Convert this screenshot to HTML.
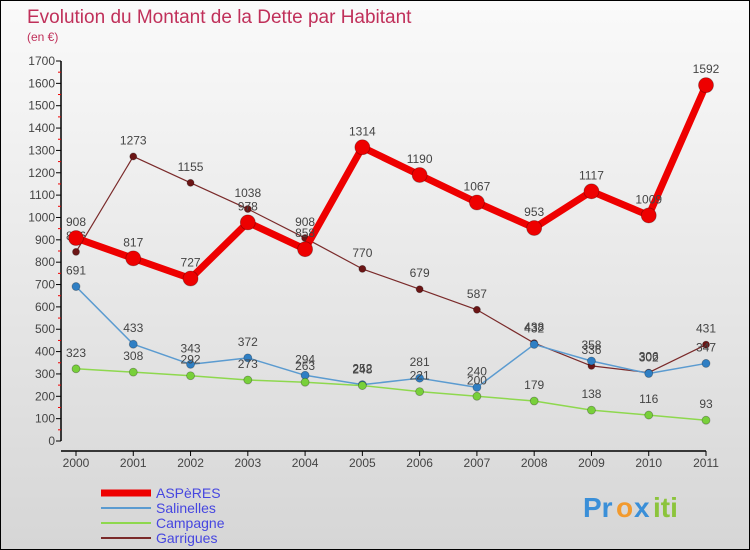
<!DOCTYPE html>
<html><head><meta charset="utf-8"><style>
body{margin:0;}
#c{width:750px;height:550px;position:relative;overflow:hidden;background:linear-gradient(#fafafa,#d6d6d6);font-family:"Liberation Sans",sans-serif;box-sizing:border-box;border:1px solid #000;}
svg{position:absolute;left:0;top:0}
</style></head><body>
<div id="c">
<svg id="s" width="750" height="550">
<text x="26" y="22" font-size="19" fill="#c0305a">Evolution du Montant de la Dette par Habitant</text>
<text x="26" y="40" font-size="12" fill="#c0305a">(en €)</text>
<g id="ax"></g><g id="ser"></g>
<g font-size="28" font-weight="bold">
<text x="582" y="516" fill="#3a8fd8">Pr</text><text x="615" y="516" fill="#f29a2e">o</text><text x="633" y="516" fill="#3a8fd8">x</text><text x="652" y="516" fill="#8cc43c">iti</text>
</g>
</svg>
</div>
<script>
const years=[2000,2001,2002,2003,2004,2005,2006,2007,2008,2009,2010,2011];
const asperes=[908,817,727,978,858,1314,1190,1067,953,1117,1009,1592];
const salinelles=[691,433,343,372,294,252,281,240,432,358,302,347];
const campagne=[323,308,292,273,263,248,221,200,179,138,116,93];
const garrigues=[846,1273,1155,1038,908,770,679,587,438,336,306,431];
const yTicks=[0,100,200,300,400,500,600,700,800,900,1000,1100,1200,1300,1400,1500,1600,1700];
const NS="http://www.w3.org/2000/svg";
const X=i=>75+i*(630/11);
const Y=v=>440-v*380/1700;
function mk(t,a,p){const e=document.createElementNS(NS,t);for(const k in a)e.setAttribute(k,a[k]);p.appendChild(e);return e;}
const ax=document.getElementById('ax');
let l=mk('line',{x1:60,y1:Y(1700),x2:60,y2:440,stroke:'#000','stroke-width':1.5},ax);

l=mk('line',{x1:60,y1:450,x2:705,y2:450,stroke:'#000','stroke-width':1.5},ax);

yTicks.forEach(v=>{
 mk('line',{x1:55,x2:60,y1:Y(v),y2:Y(v),stroke:'#000'},ax);
 if(v<1700)mk('line',{x1:57,x2:60,y1:Y(v+50),y2:Y(v+50),stroke:'#e00'},ax);
 const t=mk('text',{x:54,y:Y(v)+4,'font-size':12,fill:'#444','text-anchor':'end'},ax);t.textContent=v;
 
});
years.forEach((y,i)=>{
 mk('line',{x1:X(i),x2:X(i),y1:450,y2:455,stroke:'#000'},ax);
 const t=mk('text',{x:X(i),y:466,'font-size':12,fill:'#444','text-anchor':'middle'},ax);t.textContent=y;
 
});
const ser=document.getElementById('ser');
const defs=[
 [garrigues,'#7a2a2a',1.2,3.5,'#6b1515','garrigues'],
 [salinelles,'#5b9bd0',1.5,4,'#2f7fc4','salinelles'],
 [campagne,'#8ed84e',1.5,4,'#78d03a','campagne'],
 [asperes,'#e00',7,7.5,'#e00','asperes']];
defs.forEach(([d,c,w,r,fc,n])=>{
 const g=mk('g',{},ser);
 
 const p=mk('polyline',{points:d.map((v,i)=>X(i)+','+Y(v)).join(' '),fill:'none',stroke:c,'stroke-width':w,'stroke-linejoin':'round'},g);
 
 d.forEach((v,i)=>{
  const m=mk('circle',{cx:X(i),cy:Y(v),r:r,fill:fc,stroke:'rgba(0,0,0,0.3)','stroke-width':0.8},g);
  
  const t=mk('text',{x:X(i),y:Y(v)-12,'font-size':12,fill:'#444','text-anchor':'middle'},g);t.textContent=v;
  
 });
});
const leg=[['ASPèRES','#e00',7],['Salinelles','#5b9bd0',2],['Campagne','#8ed84e',2],['Garrigues','#7a2a2a',2]];
leg.forEach(([n,c,w],i)=>{
 const g=mk('g',{},ser);
 
 const yy=492+i*15;
 mk('line',{x1:100,x2:150,y1:yy,y2:yy,stroke:c,'stroke-width':w},g);
 const t=mk('text',{x:155,y:yy+5,'font-size':14,fill:'#4646e0'},g);t.textContent=n;
});
</script>
</body></html>
